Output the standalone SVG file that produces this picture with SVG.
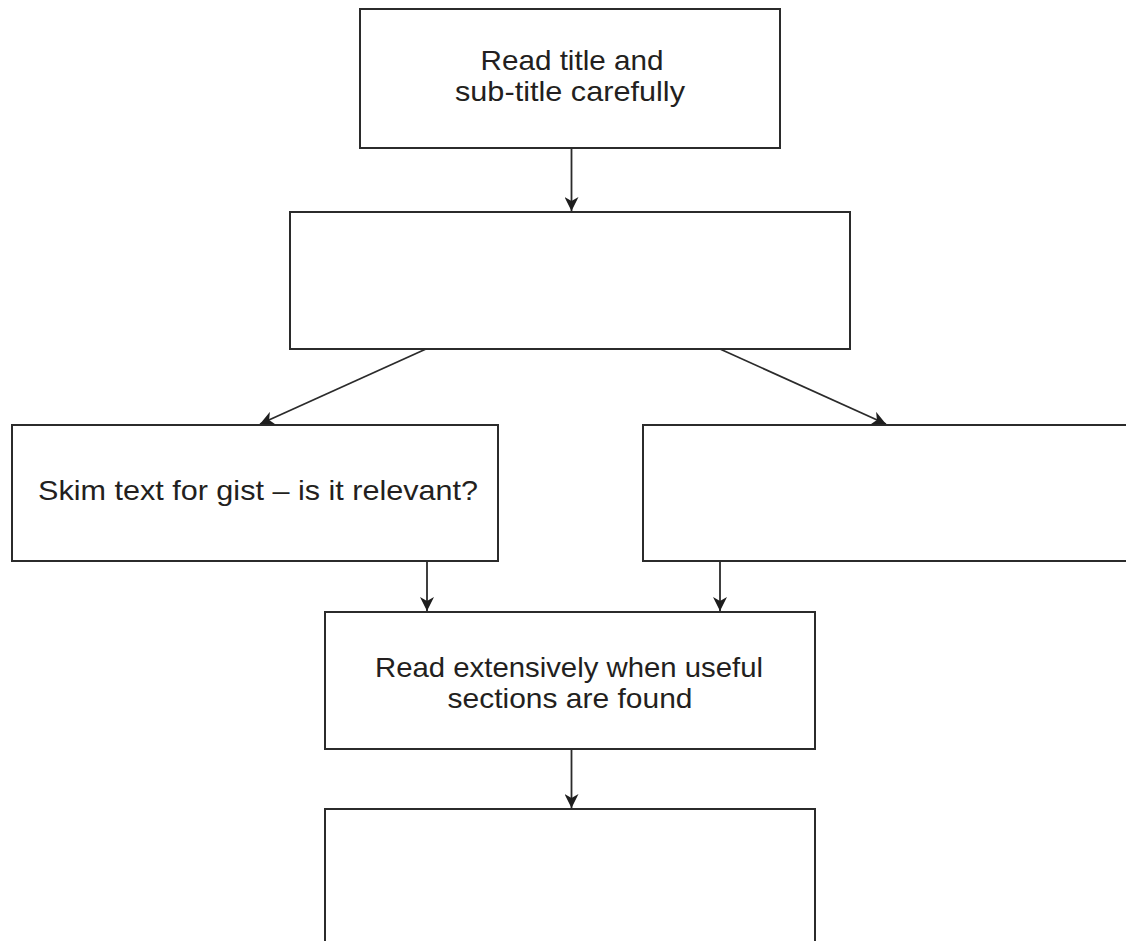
<svg xmlns="http://www.w3.org/2000/svg" width="1126" height="941" viewBox="0 0 1126 941">
<style>
.box{fill:#fff;stroke:#2b2b2b;stroke-width:2}
.lbl{font-family:"Liberation Sans",Arial,sans-serif;font-size:28px;fill:#231f20;text-anchor:middle}
.con{fill:none;stroke:#2b2b2b;stroke-width:1.8}
</style>
<defs>
<marker id="ah" viewBox="0 0 14 14" refX="14" refY="7" markerWidth="14" markerHeight="14" markerUnits="userSpaceOnUse" orient="auto">
<path d="M0,0 L14,7 L0,14 L4,7 Z" fill="#1e1e1e"/>
</marker>
</defs>
<rect width="1126" height="941" fill="#fff"/>
<g id="n1">
<rect class="box" x="360" y="9" width="420" height="139"/>
<text class="lbl" x="572" y="70" textLength="183" lengthAdjust="spacingAndGlyphs">Read title and</text>
<text class="lbl" x="570" y="101" textLength="230" lengthAdjust="spacingAndGlyphs">sub-title carefully</text>
</g>
<g id="n2">
<rect class="box" x="290" y="212" width="560" height="137"/>
</g>
<g id="n3">
<rect class="box" x="12" y="425" width="486" height="136"/>
<text class="lbl" x="258" y="500" textLength="440" lengthAdjust="spacingAndGlyphs">Skim text for gist – is it relevant?</text>
</g>
<g id="n4">
<rect class="box" x="643" y="425" width="500" height="136"/>
</g>
<g id="n5">
<rect class="box" x="325" y="612" width="490" height="137"/>
<text class="lbl" x="569" y="677" textLength="388" lengthAdjust="spacingAndGlyphs">Read extensively when useful</text>
<text class="lbl" x="570" y="708" textLength="245" lengthAdjust="spacingAndGlyphs">sections are found</text>
</g>
<g id="n6">
<rect class="box" x="325" y="809" width="490" height="150"/>
</g>
<g id="connectors">
<line class="con" x1="571.5" y1="148" x2="571.5" y2="211" marker-end="url(#ah)"/>
<line class="con" x1="426" y1="349" x2="260" y2="424" marker-end="url(#ah)"/>
<line class="con" x1="720" y1="349" x2="886" y2="424" marker-end="url(#ah)"/>
<line class="con" x1="427" y1="561" x2="427" y2="611" marker-end="url(#ah)"/>
<line class="con" x1="720" y1="561" x2="720" y2="611" marker-end="url(#ah)"/>
<line class="con" x1="571.5" y1="749" x2="571.5" y2="808" marker-end="url(#ah)"/>
</g>
</svg>
